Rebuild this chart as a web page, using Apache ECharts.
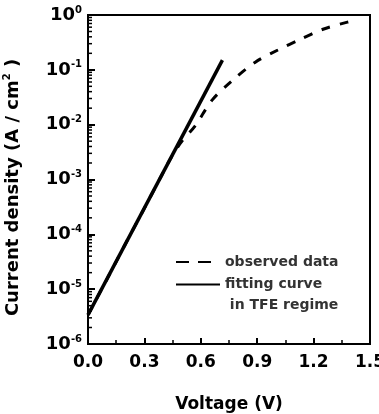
<!DOCTYPE html>
<html>
<head>
<meta charset="utf-8">
<script src="https://cdn.jsdelivr.net/npm/echarts@6/dist/echarts.min.js"></script>
<style>
  html, body { margin: 0; padding: 0; background: #fff; }
  #chart { width: 379px; height: 414px; }
</style>
</head>
<body>
<div id="chart"></div>
<script>
// observed J-V data (dashed)
const obsVoltage = [0.0, 0.1, 0.2, 0.3, 0.4, 0.45, 0.5, 0.57, 0.66, 0.77, 0.89, 1.01, 1.13, 1.25, 1.38, 1.43];
const obsCurrent = [3.4e-6, 1.5e-5, 6.8e-5, 3.0e-4, 1.35e-3, 2.8e-3, 5.0e-3, 9.5e-3, 2.8e-2, 6.5e-2, 0.138, 0.23, 0.36, 0.55, 0.74, 0.80];
// TFE fitting line (straight on log scale)
const fitVoltage = [0.0, 0.715];
const fitCurrent = [3.4e-6, 0.15];
// axis ticks
const xTicks = [0.0, 0.3, 0.6, 0.9, 1.2, 1.5];
const yDecades = [-6, -5, -4, -3, -2, -1, 0];

const font = '"DejaVu Sans", Arial, sans-serif';

// log minor tick values 2..9 x 10^k
let minorVals = [];
for (let k = yDecades[0]; k < yDecades[yDecades.length - 1]; k++) {
  for (let m = 2; m <= 9; m++) minorVals.push([0, m * Math.pow(10, k)]);
}

let myChart = echarts.init(document.getElementById('chart'));
myChart.setOption({
  animation: false,
  textStyle: { fontFamily: font },
  grid: {
    left: 88,
    right: 9,
    top: 15,
    bottom: 70,
    containLabel: false,
    outerBoundsMode: 'none',
    show: true,
    borderColor: '#000',
    borderWidth: 2
  },
  legend: {
    orient: 'vertical',
    left: 175,
    top: 253,
    padding: 0,
    itemWidth: 44,
    itemHeight: 14,
    itemGap: -16,
    textGap: 0,
    itemStyle: { color: 'rgba(0,0,0,0)', borderColor: 'rgba(0,0,0,0)', borderWidth: 0, opacity: 0 },
    textStyle: { fontSize: 14, fontWeight: 'bold', color: '#333', fontFamily: font },
    // second entry keeps its first line level with the icon
    formatter: name => name === 'fitting curve' ? ' \nfitting curve\n in TFE regime' : name,
    data: [
      { name: 'observed data', lineStyle: { type: [13, 9] } },
      { name: 'fitting curve', textStyle: { lineHeight: 21 } }
    ]
  },
  xAxis: {
    type: 'value',
    min: 0,
    max: 1.5,
    interval: 0.3,
    name: 'Voltage (V)',
    nameLocation: 'middle',
    nameGap: 52,
    nameTextStyle: { fontSize: 17, fontWeight: 'bold', color: '#000', fontFamily: font },
    axisLine: { lineStyle: { color: '#000', width: 2 } },
    axisTick: { inside: true, length: 6, lineStyle: { color: '#000', width: 2 } },
    minorTick: { show: true, splitNumber: 2, length: 4, lineStyle: { color: '#000', width: 1.5 } },
    splitLine: { show: false },
    axisLabel: {
      margin: 10,
      fontSize: 17,
      fontWeight: 'bold',
      color: '#000',
      formatter: v => v.toFixed(1)
    }
  },
  yAxis: {
    type: 'log',
    logBase: 10,
    min: Math.pow(10, yDecades[0]),
    max: Math.pow(10, yDecades[yDecades.length - 1]),
    splitNumber: 6,
    name: '{a|Current density (A / cm}{s|2}{a| )}',
    nameLocation: 'middle',
    nameGap: 64,
    nameTextStyle: {
      padding: [0, 16, 0, 0],
      rich: {
        a: { fontSize: 18, fontWeight: 'bold', color: '#000', fontFamily: font, lineHeight: 22 },
        s: { fontSize: 10, fontWeight: 'bold', color: '#000', fontFamily: font, verticalAlign: 'top', lineHeight: 22 }
      }
    },
    axisLine: { lineStyle: { color: '#000', width: 2 } },
    axisTick: { inside: true, length: 7, lineStyle: { color: '#000', width: 2 } },
    splitLine: { show: false },
    axisLabel: {
      margin: 6,
      formatter: v => '{b|10}{s|' + Math.round(Math.log10(v)) + '}',
      rich: {
        b: { fontSize: 18, fontWeight: 'bold', color: '#000', fontFamily: font, lineHeight: 20 },
        s: { fontSize: 10, fontWeight: 'bold', color: '#000', fontFamily: font, verticalAlign: 'top', lineHeight: 20 }
      }
    }
  },
  series: [
    {
      name: 'observed data',
      type: 'line',
      data: obsVoltage.map((v, i) => [v, obsCurrent[i]]),
      smooth: 0.3,
      showSymbol: false,
      symbol: 'none',
      lineStyle: { color: '#000', width: 3, type: [9, 10] },
      itemStyle: { color: '#000' }
    },
    {
      name: 'fitting curve',
      type: 'line',
      data: fitVoltage.map((v, i) => [v, fitCurrent[i]]),
      showSymbol: false,
      symbol: 'none',
      lineStyle: { color: '#000', width: 3.5 },
      itemStyle: { color: '#000' }
    },
    {
      type: 'custom',
      silent: true,
      data: minorVals,
      encode: { x: 0, y: 1 },
      renderItem: (params, api) => {
        let p = api.coord([0, api.value(1)]);
        return {
          type: 'line',
          shape: { x1: p[0], y1: p[1], x2: p[0] + 4, y2: p[1] },
          style: { stroke: '#000', lineWidth: 1.5 }
        };
      }
    }
  ]
});
</script>
</body>
</html>
